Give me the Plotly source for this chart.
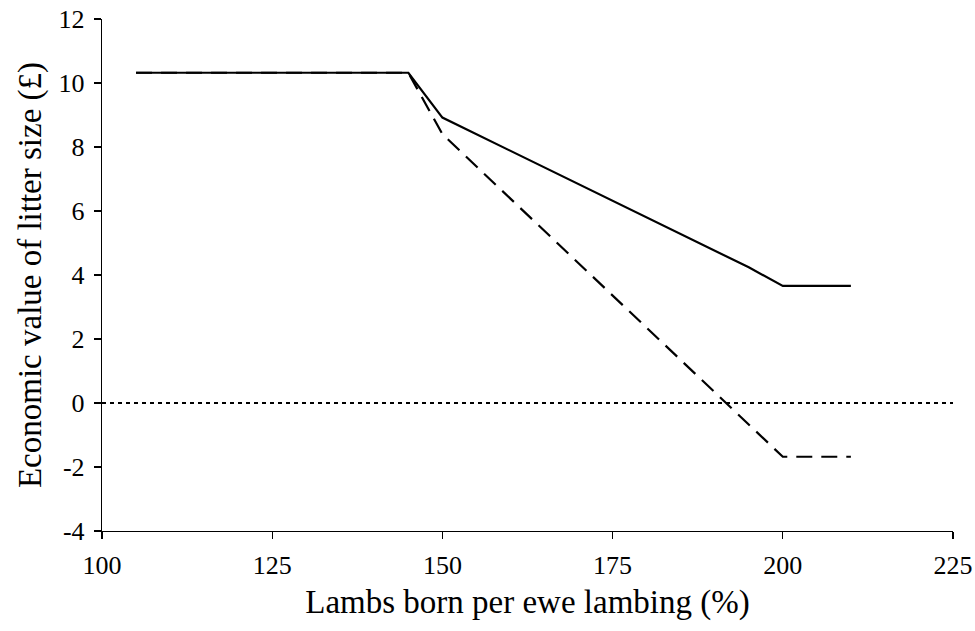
import plotly.graph_objects as go

# Data
lambs_solid = [105, 145, 150, 195, 200, 210]
value_solid = [10.32, 10.32, 8.92, 4.24, 3.66, 3.66]

lambs_dashed = [105, 145, 150, 200, 210]
value_dashed = [10.32, 10.32, 8.40, -1.68, -1.68]

x_ticks = [100, 125, 150, 175, 200, 225]
y_ticks = [-4, -2, 0, 2, 4, 6, 8, 10, 12]
y_tick_text = ["-4", "-2", "0", "2", "4", "6", "8", "10", "12"]

FONT = "Liberation Serif"

fig = go.Figure()
fig.add_trace(go.Scatter(x=lambs_solid, y=value_solid, mode="lines",
                         line=dict(color="black", width=2.2), showlegend=False))
fig.add_trace(go.Scatter(x=lambs_dashed, y=value_dashed, mode="lines",
                         line=dict(color="black", width=2.2, dash="16px,9px"),
                         showlegend=False))
fig.add_hline(y=0, line=dict(color="black", width=2, dash="4px,4px"))

fig.update_layout(
    width=975, height=631,
    margin=dict(l=102, r=22, t=19, b=100),
    paper_bgcolor="white", plot_bgcolor="white",
    font=dict(family=FONT, color="black", size=26),
    xaxis=dict(range=[100, 225], tickvals=x_ticks, showgrid=False, zeroline=False,
               showline=True, linecolor="black", linewidth=1.2, automargin=False,
               ticks="outside", ticklen=7, tickcolor="black", tickwidth=1.2,
               tickfont=dict(family=FONT, size=26), ticklabelstandoff=4,
               ticklabeloverflow="allow",
               title=dict(text="Lambs born per ewe lambing (%)",
                          font=dict(family=FONT, size=33), standoff=10)),
    yaxis=dict(range=[-4, 12], tickvals=y_ticks, ticktext=y_tick_text,
               showgrid=False, zeroline=False,
               showline=True, linecolor="black", linewidth=1.2, automargin=False,
               ticks="outside", ticklen=7, tickcolor="black", tickwidth=1.2,
               tickfont=dict(family=FONT, size=26), ticklabelstandoff=4,
               ticklabeloverflow="allow",
               title=dict(text="Economic value of litter size (£)",
                          font=dict(family=FONT, size=33), standoff=7)),
)

fig.write_html("out.html", config={"displayModeBar": False, "staticPlot": True})

# remove the default page margin so the figure fills the window exactly
with open("out.html", "r", encoding="utf-8") as f:
    html = f.read()
html = html.replace("<body>", '<body style="margin:0;overflow:hidden">', 1)
with open("out.html", "w", encoding="utf-8") as f:
    f.write(html)
